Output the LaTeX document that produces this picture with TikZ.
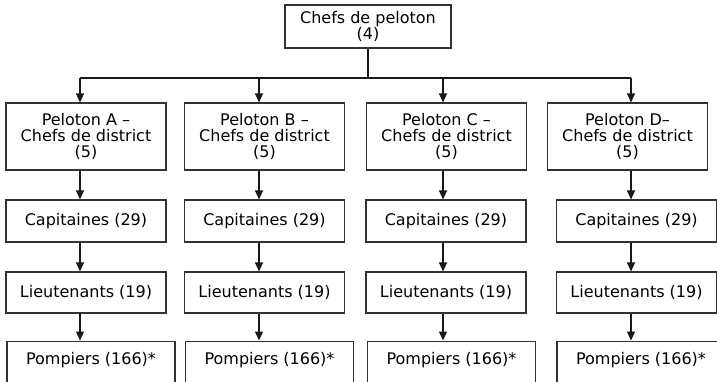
\documentclass[tikz,border=0pt]{standalone}
\usepackage{fontspec}
\setmainfont{DejaVu Sans}
\usetikzlibrary{arrows.meta, positioning}
\definecolor{BoxLine}{RGB}{50, 50, 50}
\definecolor{LinkGray}{RGB}{25, 25, 25}

\begin{document}
\begin{tikzpicture}[x=1pt, y=-1pt,
    every node/.style={font=\fontsize{16}{16}\selectfont, text=black},
    chefbox/.style={draw=BoxLine, line width=1.1pt, align=center, inner sep=0pt, minimum width=160pt},
    rankbox/.style={chefbox, minimum height=42pt},
    basebox/.style={chefbox, anchor=north, minimum width=168pt, text height=18pt, text depth=32pt, inner ysep=5pt},
    wire/.style={draw=LinkGray, line width=1.1pt},
    link/.style={wire, -{Triangle[width=8pt, length=9pt]}}]

    \useasboundingbox[fill=white] (0,0) rectangle (717,381);

    % Top node
    \node[chefbox, minimum width=166pt, minimum height=43pt] (top) at (368,26.5) {Chefs de peloton\\(4)};

    % Branch points on the bar
    \coordinate (xA) at (80,78);
    \coordinate (xB) at (259,78);
    \coordinate (xC) at (443,78);
    \coordinate (xD) at (631,78);

    % Peloton row
    \node[chefbox, minimum height=67pt] (pelA) at (86,136.5) {Peloton A –\\Chefs de district\\(5)};
    \node[chefbox, minimum height=67pt] (pelB) at (264.5,136.5) {Peloton B –\\Chefs de district\\(5)};
    \node[chefbox, minimum height=67pt] (pelC) at (446.5,136.5) {Peloton C –\\Chefs de district\\(5)};
    \node[chefbox, minimum height=67pt] (pelD) at (627.5,136.5) {Peloton D–\\Chefs de district\\(5)};

    % Capitaines row
    \node[rankbox] (capA) at (86,221) {Capitaines (29)};
    \node[rankbox] (capB) at (264.5,221) {Capitaines (29)};
    \node[rankbox] (capC) at (446,221) {Capitaines (29)};
    \node[rankbox] (capD) at (636.5,221) {Capitaines (29)};

    % Lieutenants row
    \node[rankbox, minimum height=41pt] (lieA) at (86,292.5) {Lieutenants (19)};
    \node[rankbox, minimum height=41pt] (lieB) at (264.5,292.5) {Lieutenants (19)};
    \node[rankbox, minimum height=41pt] (lieC) at (446,292.5) {Lieutenants (19)};
    \node[rankbox, minimum height=41pt] (lieD) at (636.5,292.5) {Lieutenants (19)};

    % Pompiers row (cut by the page edge)
    \node[basebox] (pomA) at (91,340.5) {Pompiers (166)*};
    \node[basebox] (pomB) at (269.5,340.5) {Pompiers (166)*};
    \node[basebox] (pomC) at (451.5,340.5) {Pompiers (166)*};
    \node[basebox] (pomD) at (641,340.5) {Pompiers (166)*};

    % Trunk and bar
    \draw[wire] (top.south) -- (top.south |- xA);
    \draw[wire] (xA) -- (xD);
    \draw[link] (xA) -- (pelA.north -| xA);
    \draw[link] (xB) -- (pelB.north -| xB);
    \draw[link] (xC) -- (pelC.north -| xC);
    \draw[link] (xD) -- (pelD.north -| xD);

    % Column links
    \draw[link] (pelA.south -| xA) -- (capA.north -| xA);
    \draw[link] (capA.south -| xA) -- (lieA.north -| xA);
    \draw[link] (lieA.south -| xA) -- (pomA.north -| xA);
    \draw[link] (pelB.south -| xB) -- (capB.north -| xB);
    \draw[link] (capB.south -| xB) -- (lieB.north -| xB);
    \draw[link] (lieB.south -| xB) -- (pomB.north -| xB);
    \draw[link] (pelC.south -| xC) -- (capC.north -| xC);
    \draw[link] (capC.south -| xC) -- (lieC.north -| xC);
    \draw[link] (lieC.south -| xC) -- (pomC.north -| xC);
    \draw[link] (pelD.south -| xD) -- (capD.north -| xD);
    \draw[link] (capD.south -| xD) -- (lieD.north -| xD);
    \draw[link] (lieD.south -| xD) -- (pomD.north -| xD);
\end{tikzpicture}
\end{document}
